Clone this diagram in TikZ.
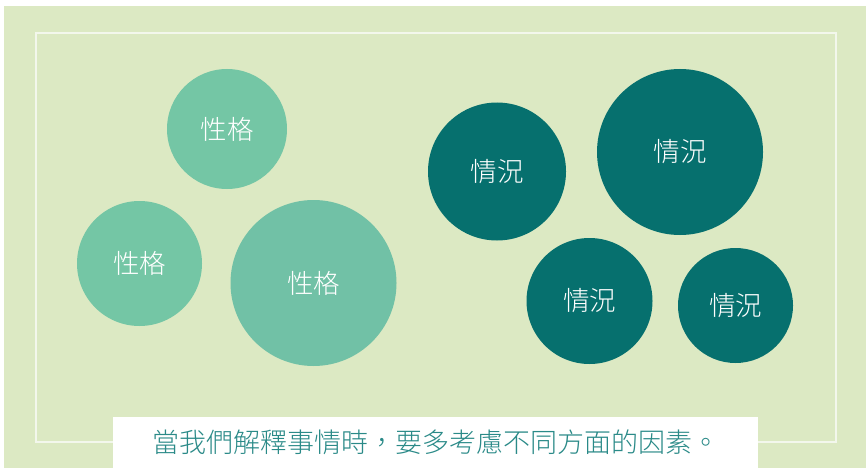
\documentclass[tikz,border=0pt]{standalone}
\usepackage{fontspec}
\IfFontExistsTF{Noto Sans CJK TC Light}
  {\newfontfamily\cjk{Noto Sans CJK TC Light}}
  {\newfontfamily\cjk{Noto Sans CJK TC}}
\definecolor{bggreen}{HTML}{DCE9C3}
\definecolor{lightc}{HTML}{74C6A5}
\definecolor{lightc2}{HTML}{71C1A6}
\definecolor{darkc}{HTML}{06706E}
\definecolor{captxt}{HTML}{2A8A88}
\definecolor{framec}{HTML}{F3F7EC}
\tikzset{
  bubble/.style={circle, inner sep=0pt, minimum size=#1, text=white, font=\cjk\fontsize{26.5}{27}\selectfont},
  light/.style={fill=lightc},
  dark/.style={fill=darkc},
}
\begin{document}
\begin{tikzpicture}[x=1pt,y=-1pt]
\useasboundingbox (0,0) rectangle (866,468);
\fill[white] (0,0) rectangle (866,468);
\fill[bggreen] (4,6) rectangle (866,468);
\draw[framec, line width=2pt] (36,33) rectangle (835.5,442);
% bubbles
\node[bubble=120pt, light] (p1) at (227,129) {性格};
\node[bubble=125pt, light] (p2) at (139.5,263.5) {性格};
\node[bubble=166pt, fill=lightc2] (p3) at (313.5,283) {性格};
\node[bubble=138pt, dark] (s1) at (497,171.5) {情況};
\node[bubble=166pt, dark] (s2) at (680,152) {情況};
\node[bubble=126pt, dark] (s3) at (589.5,301) {情況};
\node[bubble=115pt, dark] (s4) at (735.5,305.5) {情況};
% caption
\fill[white] (113,417) rectangle (758,468);
\node[text=captxt, font=\cjk\fontsize{27}{27}\selectfont, inner sep=0pt] (cap) at (435.5,442) {當我們解釋事情時，要多考慮不同方面的因素。};
\end{tikzpicture}
\end{document}
